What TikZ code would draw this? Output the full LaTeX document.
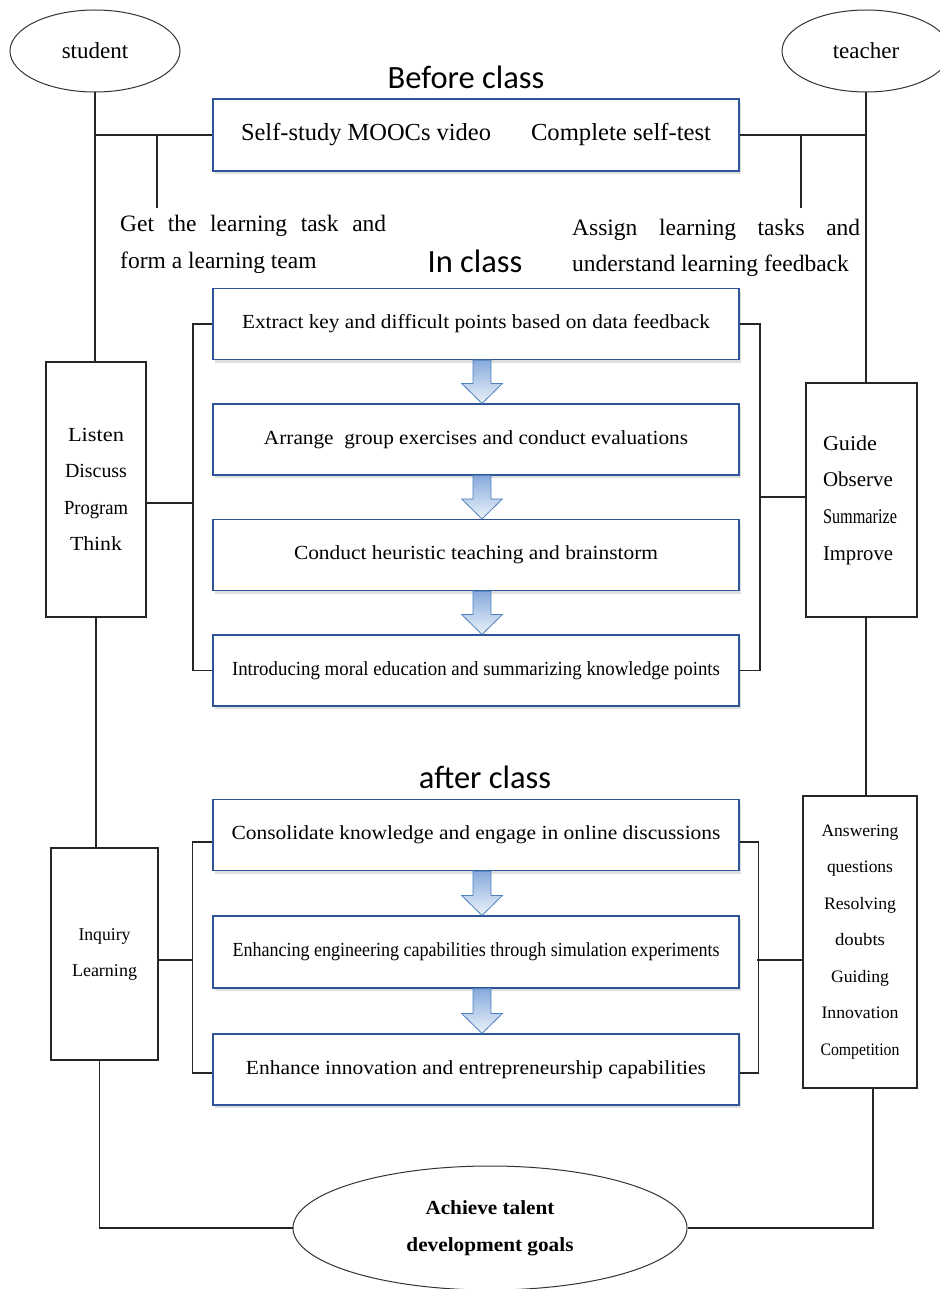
\documentclass[tikz,border=0pt]{standalone}
\usepackage{fontspec}
\setmainfont{Liberation Serif}
\newfontfamily\titlefont{Carlito}
\usepackage{graphicx}
\usetikzlibrary{shapes.geometric,shadows,calc}
\definecolor{boxblue}{RGB}{47,84,150}
\definecolor{arrline}{RGB}{79,129,189}
\definecolor{arrtop}{RGB}{135,170,220}
\definecolor{arrbot}{RGB}{235,242,250}
\newcommand\fitw[2]{\resizebox{#1pt}{\height}{#2}}
\newcommand\blockarr[2]{\path[blockarrow] ($(#1)+(-3,0)$) -- ($(#2)+(-3,-20)$) -- ($(#2)+(-14.5,-20)$) -- ($(#2)+(6,0)$) -- ($(#2)+(26.5,-20)$) -- ($(#2)+(15,-20)$) -- ($(#1)+(15,0)$) -- cycle;}
\begin{document}
\begin{tikzpicture}[x=1pt,y=-1pt,
  stagebox/.style={draw=boxblue, line width=1.2pt, fill=white, minimum width=526pt, minimum height=71pt, inner sep=0pt,
    drop shadow={opacity=0.25, shadow xshift=2pt, shadow yshift=-3pt}},
  sidebox/.style={draw=black!85, line width=1.1pt, fill=white, inner sep=0pt},
  oval/.style={ellipse, draw=black!80, line width=1pt, fill=white, inner sep=0pt},
  conn/.style={draw=black!85, line width=1.1pt},
  titletext/.style={font=\titlefont\fontsize{32.5}{36}\selectfont, inner sep=0pt},
  boxtext/.style={font=\fontsize{20}{24}\selectfont},
  blockarrow/.style={draw=arrline, line width=0.8pt, top color=arrtop, bottom color=arrbot, line join=miter}
]
\useasboundingbox (0,0) rectangle (939,1289);
\fill[white] (0,0) rectangle (939,1289);

% ellipses
\node[oval, minimum width=170pt, minimum height=82pt, font=\fontsize{23}{26}\selectfont] (student) at (95,51) {student};
\node[oval, minimum width=168pt, minimum height=82pt, font=\fontsize{23}{26}\selectfont] (teacher) at (866,51) {teacher};

% titles
\node[titletext] (tbefore) at (466,77) {Before class};
\node[titletext] (tin) at (475,261) {In class};
\node[titletext] (tafter) at (485,777) {after class};

% before class box
\node[stagebox, minimum height=72pt, font=\fontsize{24.5}{28}\selectfont] (before) at (476,135) {\fitw{250}{Self-study MOOCs video}\hspace{40pt}\fitw{180}{Complete self-test}};

% side texts
\node[anchor=west, align=left, inner sep=0pt, font=\fontsize{23.5}{37}\selectfont] (stask) at (120,244) {\makebox[266pt][s]{Get the learning task and}\\form a learning team};
\node[anchor=west, align=left, inner sep=0pt, font=\fontsize{23.5}{36}\selectfont] (ttask) at (572,248) {\makebox[288pt][s]{Assign learning tasks and}\\understand learning feedback};

% in class boxes
\node[stagebox, boxtext] (c1) at (476,324) {\fitw{468}{Extract key and difficult points based on data feedback}};
\node[stagebox, boxtext] (c2) at (476,439.5) {\fitw{424}{Arrange\ \ group exercises and conduct evaluations}};
\node[stagebox, boxtext] (c3) at (476,555) {\fitw{364}{Conduct heuristic teaching and brainstorm}};
\node[stagebox, boxtext] (c4) at (476,670.5) {\fitw{488}{Introducing moral education and summarizing knowledge points}};

% after class boxes
\node[stagebox, boxtext] (a1) at (476,835) {\fitw{489}{Consolidate knowledge and engage in online discussions}};
\node[stagebox, boxtext, minimum height=72pt] (a2) at (476,952) {\fitw{487}{Enhancing engineering capabilities through simulation experiments}};
\node[stagebox, boxtext] (a3) at (476,1069.5) {\fitw{460}{Enhance innovation and entrepreneurship capabilities}};

% side boxes
\node[sidebox, minimum width=100pt, minimum height=255pt, align=center, font=\fontsize{20}{36.5}\selectfont] (listen) at (96,489.5) {\fitw{56}{Listen}\\\fitw{62}{Discuss}\\\fitw{64}{Program}\\\fitw{52}{Think}};
\node[sidebox, minimum width=111pt, minimum height=234pt, align=left, text width=77pt, inner xsep=17pt, font=\fontsize{21}{36.7}\selectfont] (guide) at (861.5,500) {\fitw{54}{Guide}\\\fitw{70}{Observe}\\\fitw{74}{Summarize}\\\fitw{70}{Improve}};
\node[sidebox, minimum width=107pt, minimum height=212pt, align=center, font=\fontsize{18}{36}\selectfont] (inquiry) at (104.5,954) {\fitw{52}{Inquiry}\\\fitw{65}{Learning}};
\node[sidebox, minimum width=114pt, minimum height=292pt, align=center, font=\fontsize{17.5}{36.5}\selectfont] (answer) at (860,942) {\fitw{77}{Answering}\\\fitw{66}{questions}\\\fitw{72}{Resolving}\\\fitw{50}{doubts}\\\fitw{58}{Guiding}\\\fitw{77}{Innovation}\\\fitw{79}{Competition}};

% goal ellipse
\node[oval, minimum width=394pt, minimum height=124pt, align=center, font=\bfseries\fontsize{20}{37}\selectfont] (goal) at (490,1228) {\fitw{129}{Achieve talent}\\\fitw{167}{development goals}};

% student connectors
\draw[conn] (student.south) -- (student.south |- listen.north);
\coordinate (sj) at (student.south |- before.west);
\draw[conn] (sj) -- (before.west);
\coordinate (sbr) at (157,135);
\coordinate (sbrend) at (157,208);
\draw[conn] (sbr) -- (sbrend);
\draw[conn] (listen.south) -- (listen.south |- inquiry.north);
\draw[conn] ([xshift=-5pt]inquiry.south) |- (goal.west);

% teacher connectors
\draw[conn] (teacher.south) -- (teacher.south |- guide.north);
\coordinate (tj) at (teacher.south |- before.east);
\draw[conn] (before.east) -- (tj);
\coordinate (tbr) at (801,135);
\coordinate (tbrend) at (801,208);
\draw[conn] (tbr) -- (tbrend);
\draw[conn] (guide.south -| teacher.south) -- (answer.north -| teacher.south);
\draw[conn] ([xshift=13pt]answer.south) |- (goal.east);

% in class brackets
\coordinate (lb) at (193,0);
\coordinate (rb) at (760,0);
\draw[conn] (c1.west) -- (c1.west -| lb) -- (c4.west -| lb) -- (c4.west);
\draw[conn] ([yshift=-13.5pt]listen.east) -- ([yshift=-13.5pt]listen.east -| lb);
\draw[conn] (c1.east) -- (c1.east -| rb) -- (c4.east -| rb) -- (c4.east);
\draw[conn] ([yshift=3pt]guide.west) -- ([yshift=3pt]guide.west -| rb);

% after class brackets
\draw[conn] ([yshift=-7pt]a1.west) -- ++(-20,0) |- ([yshift=-3.5pt]a3.west);
\draw[conn] ([yshift=-6pt]inquiry.east) -- ([yshift=-6pt]inquiry.east -| lb);
\draw[conn] ([yshift=-7pt]a1.east) -- ++(19,0) |- ([yshift=-3.5pt]a3.east);
\draw[conn] ([yshift=-18pt]answer.west) -- ++(-45,0);

% block arrows
\blockarr{c1.south}{c2.north}
\blockarr{c2.south}{c3.north}
\blockarr{c3.south}{c4.north}
\blockarr{a1.south}{a2.north}
\blockarr{a2.south}{a3.north}
\end{tikzpicture}
\end{document}
